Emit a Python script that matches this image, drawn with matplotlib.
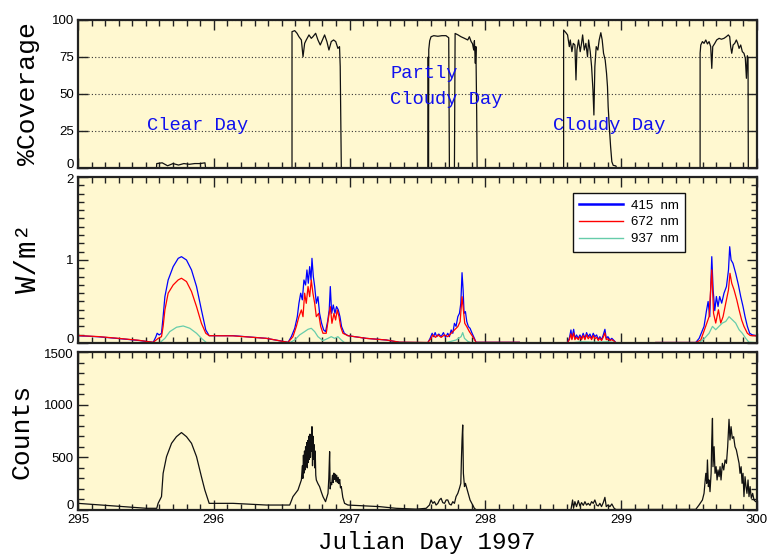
import numpy as np
import matplotlib
matplotlib.use("Agg")
import matplotlib.pyplot as plt
from matplotlib.ticker import MultipleLocator, FixedLocator, FuncFormatter
from matplotlib.font_manager import FontProperties
from matplotlib.lines import Line2D
from matplotlib.transforms import offset_copy

nan = np.nan

# ---------------- data (day, value) ----------------
cov_clear = [(295.578, 0), (295.58, 3), (295.62, 3.5), (295.66, 1.5), (295.70, 3), (295.74, 2),
             (295.78, 3), (295.82, 2.5), (295.86, 3), (295.90, 3), (295.935, 3.5), (295.94, 0)]
cov_day2 = [(296.576, 0), (296.576, 92.1), (296.596, 92.8), (296.613, 91), (296.627, 88.7),
            (296.645, 86.5), (296.657, 75.2), (296.669, 84.2), (296.681, 86.5), (296.701, 89.9),
            (296.718, 87.6), (296.73, 88.7), (296.75, 91), (296.767, 86.5), (296.784, 83.1),
            (296.80, 86.5), (296.816, 89.9), (296.833, 85.4), (296.848, 79.7), (296.865, 85.4),
            (296.882, 86.5), (296.898, 85.4), (296.914, 80.8), (296.926, 82), (296.931, 68.5),
            (296.939, 0)]
cov_partly = [(297.578, 0), (297.579, 75), (297.581, 0), (297.583, 80), (297.59, 86), (297.60, 88.7),
              (297.62, 89.4), (297.65, 89), (297.68, 89.4), (297.71, 89.4), (297.73, 88), (297.735, 0),
              (297.772, 0), (297.777, 90.9), (297.797, 90), (297.82, 88.7), (297.846, 87.6),
              (297.87, 86.5), (297.882, 88.7), (297.895, 85.4), (297.905, 84), (297.914, 79.7),
              (297.919, 86), (297.926, 70.7), (297.93, 82), (297.936, 36.9), (297.939, 0)]
cov_cloudy = [(298.576, 0), (298.576, 93.2), (298.593, 91.4), (298.605, 89.9), (298.618, 82),
              (298.625, 86.5), (298.637, 78.6), (298.647, 84.2), (298.659, 83.1), (298.667, 59.5),
              (298.674, 79.7), (298.686, 86.5), (298.698, 78.6), (298.708, 84.2), (298.716, 89.9),
              (298.728, 79.7), (298.74, 84.2), (298.752, 75.2), (298.76, 86.5), (298.772, 78.6),
              (298.782, 68.5), (298.792, 52.7), (298.799, 35.8), (298.806, 68.5), (298.816, 82),
              (298.828, 79.7), (298.838, 86.5), (298.85, 91.4), (298.86, 86.5), (298.87, 77.5),
              (298.882, 73), (298.892, 64), (298.899, 55), (298.904, 41.4), (298.914, 25.7),
              (298.922, 14.4), (298.931, 4.3), (298.941, 1.8), (298.961, 1.4), (298.966, 0)]
cov_day5 = [(299.581, 0), (299.581, 77.5), (299.586, 83.1), (299.598, 85.4), (299.61, 84.2),
            (299.623, 86.5), (299.635, 83.8), (299.647, 85.4), (299.659, 82), (299.667, 67.3),
            (299.674, 82), (299.689, 84.2), (299.703, 86.5), (299.721, 87.6), (299.738, 87),
            (299.757, 87.6), (299.774, 88.7), (299.789, 89.9), (299.799, 88.7), (299.806, 82),
            (299.814, 77.5), (299.824, 83.1), (299.836, 84.2), (299.848, 86.5), (299.858, 84.2),
            (299.868, 80.8), (299.88, 83.1), (299.892, 78.6), (299.904, 77.5), (299.914, 74.1),
            (299.922, 60.6), (299.929, 75.8), (299.934, 74), (299.936, 0)]

w415 = [(295.0, 0.088), (295.15, 0.075), (295.284, 0.056), (295.45, 0.03), (295.554, 0.008),
        (295.574, 0.076), (295.583, 0.117), (295.598, 0.097), (295.615, 0.117), (295.627, 0.317),
        (295.64, 0.558), (295.664, 0.759), (295.701, 0.92), (295.738, 1.02), (295.762, 1.04),
        (295.799, 1.0), (295.836, 0.88), (295.873, 0.68), (295.909, 0.398), (295.941, 0.157),
        (295.966, 0.088), (296.142, 0.088), (296.387, 0.056), (296.547, 0.008),
        (296.571, 0.076), (296.596, 0.177), (296.615, 0.317), (296.627, 0.478), (296.64, 0.6),
        (296.652, 0.52), (296.664, 0.759), (296.676, 0.699), (296.686, 0.88), (296.696, 0.72),
        (296.706, 0.92), (296.716, 0.759), (296.723, 1.02), (296.733, 0.8), (296.743, 0.68),
        (296.755, 0.478), (296.767, 0.558), (296.779, 0.357), (296.794, 0.237), (296.809, 0.157),
        (296.823, 0.137), (296.838, 0.257), (296.85, 0.398), (296.858, 0.68), (296.868, 0.357),
        (296.88, 0.458), (296.892, 0.357), (296.904, 0.438), (296.917, 0.398), (296.929, 0.317),
        (296.941, 0.197), (296.961, 0.117), (296.988, 0.088), (297.122, 0.056), (297.27, 0.036),
        (297.368, 0.008), (297.576, 0.004),
        (297.593, 0.056), (297.608, 0.117), (297.618, 0.076), (297.63, 0.125), (297.642, 0.076),
        (297.657, 0.108), (297.674, 0.076), (297.691, 0.125), (297.706, 0.068), (297.723, 0.117),
        (297.735, 0.076), (297.748, 0.157), (297.76, 0.117), (297.772, 0.237), (297.784, 0.2),
        (297.797, 0.317), (297.809, 0.357), (297.819, 0.478), (297.828, 0.847), (297.836, 0.639),
        (297.843, 0.357), (297.853, 0.378), (297.863, 0.257), (297.875, 0.197), (297.887, 0.177),
        (297.902, 0.117), (297.919, 0.056), (297.931, 0.008), (298.25, 0.008), (nan, nan),
        (298.605, 0.004), (298.618, 0.056), (298.63, 0.157), (298.637, 0.056), (298.65, 0.165),
        (298.659, 0.056), (298.671, 0.097), (298.684, 0.056), (298.696, 0.097), (298.708, 0.056),
        (298.72, 0.117), (298.733, 0.056), (298.745, 0.125), (298.757, 0.076), (298.77, 0.108),
        (298.782, 0.056), (298.794, 0.117), (298.806, 0.076), (298.819, 0.097), (298.831, 0.044),
        (298.843, 0.076), (298.855, 0.036), (298.868, 0.097), (298.88, 0.165), (298.89, 0.056),
        (298.902, 0.076), (298.917, 0.036), (298.931, 0.056), (298.948, 0.028), (298.961, 0.004),
        (nan, nan), (299.255, 0.006), (299.549, 0.006),
        (299.574, 0.056), (299.61, 0.2), (299.628, 0.39), (299.64, 0.5), (299.652, 0.317),
        (299.667, 1.04), (299.677, 0.64), (299.689, 0.39), (299.701, 0.56), (299.713, 0.44),
        (299.725, 0.56), (299.74, 0.48), (299.757, 0.6), (299.775, 0.68), (299.79, 0.88),
        (299.799, 1.16), (299.809, 1.0), (299.823, 0.96), (299.843, 0.84), (299.863, 0.7),
        (299.88, 0.56), (299.897, 0.44), (299.912, 0.317), (299.929, 0.2), (299.946, 0.117),
        (299.966, 0.097), (300.0, 0.085)]

w672 = [(295.0, 0.09), (295.15, 0.077), (295.284, 0.058), (295.45, 0.032), (295.554, 0.008),
        (295.591, 0.056), (295.615, 0.076), (295.627, 0.2), (295.64, 0.398), (295.664, 0.6),
        (295.701, 0.699), (295.738, 0.76), (295.762, 0.78), (295.799, 0.74), (295.836, 0.62),
        (295.873, 0.438), (295.909, 0.237), (295.941, 0.117), (295.966, 0.088), (296.142, 0.086),
        (296.387, 0.056), (296.547, 0.008),
        (296.583, 0.076), (296.608, 0.2), (296.627, 0.317), (296.645, 0.398), (296.657, 0.317),
        (296.669, 0.6), (296.681, 0.478), (296.694, 0.68), (296.706, 0.558), (296.718, 0.76),
        (296.73, 0.6), (296.743, 0.478), (296.755, 0.317), (296.772, 0.357), (296.787, 0.2),
        (296.804, 0.117), (296.828, 0.117), (296.846, 0.317), (296.858, 0.438), (296.87, 0.237),
        (296.885, 0.357), (296.897, 0.277), (296.909, 0.398), (296.922, 0.317), (296.934, 0.197),
        (296.951, 0.117), (296.988, 0.088), (297.122, 0.056), (297.27, 0.036), (297.368, 0.01),
        (297.576, 0.006),
        (297.60, 0.056), (297.613, 0.097), (297.632, 0.068), (297.65, 0.097), (297.674, 0.068),
        (297.699, 0.097), (297.723, 0.076), (297.748, 0.117), (297.772, 0.157), (297.797, 0.197),
        (297.814, 0.257), (297.828, 0.558), (297.838, 0.398), (297.848, 0.237), (297.863, 0.197),
        (297.882, 0.137), (297.907, 0.076), (297.931, 0.008), (298.25, 0.008), (nan, nan),
        (298.605, 0.004), (298.618, 0.04), (298.63, 0.11), (298.637, 0.04), (298.65, 0.12),
        (298.659, 0.04), (298.671, 0.07), (298.684, 0.04), (298.696, 0.08), (298.708, 0.04),
        (298.72, 0.09), (298.733, 0.04), (298.745, 0.1), (298.757, 0.05), (298.77, 0.08),
        (298.782, 0.04), (298.794, 0.09), (298.806, 0.05), (298.819, 0.07), (298.831, 0.03),
        (298.843, 0.06), (298.855, 0.03), (298.868, 0.07), (298.88, 0.12), (298.89, 0.04),
        (298.902, 0.05), (298.917, 0.03), (298.931, 0.04), (298.948, 0.02), (298.961, 0.004),
        (nan, nan), (299.255, 0.006), (299.549, 0.006),
        (299.586, 0.036), (299.622, 0.2), (299.647, 0.317), (299.667, 0.88), (299.68, 0.357),
        (299.696, 0.24), (299.716, 0.4), (299.733, 0.24), (299.75, 0.317), (299.77, 0.48),
        (299.79, 0.64), (299.801, 0.84), (299.814, 0.72), (299.831, 0.64), (299.851, 0.52),
        (299.868, 0.4), (299.887, 0.277), (299.904, 0.2), (299.929, 0.117), (299.95, 0.09),
        (300.0, 0.085)]

w937 = [(295.0, 0.004), (295.603, 0.004), (295.64, 0.056), (295.676, 0.137), (295.726, 0.19),
        (295.775, 0.205), (295.824, 0.177), (295.873, 0.117), (295.909, 0.056), (295.946, 0.004),
        (296.559, 0.004), (296.596, 0.036), (296.632, 0.097), (296.669, 0.137), (296.694, 0.165),
        (296.718, 0.177), (296.743, 0.137), (296.767, 0.076), (296.804, 0.028), (296.841, 0.056),
        (296.865, 0.076), (296.89, 0.056), (296.914, 0.076), (296.939, 0.036), (296.963, 0.004),
        (297.711, 0.004), (297.784, 0.036), (297.821, 0.076), (297.833, 0.125), (297.846, 0.056),
        (297.87, 0.02), (297.895, 0.004), (298.65, 0.004), (298.70, 0.015), (298.80, 0.01),
        (298.90, 0.015), (298.96, 0.004), (299.574, 0.004), (299.61, 0.05), (299.647, 0.117),
        (299.672, 0.2), (299.696, 0.16), (299.72, 0.2), (299.745, 0.24), (299.77, 0.26),
        (299.794, 0.317), (299.818, 0.28), (299.843, 0.24), (299.868, 0.16), (299.892, 0.117),
        (299.917, 0.056), (299.94, 0.01), (300.0, 0.004)]

counts = [(295.0, 63), (295.25, 40), (295.505, 16), (295.58, 16), (295.59, 63), (295.615, 127),
          (295.627, 348), (295.652, 506), (295.689, 633), (295.725, 696), (295.762, 735),
          (295.799, 696), (295.836, 633), (295.873, 506), (295.909, 316), (295.934, 190),
          (295.966, 63), (296.142, 63), (296.387, 47), (296.559, 47), (296.583, 127), (296.62, 190),
          (296.645, 285), (296.652, 420), (296.656, 300), (296.66, 520), (296.664, 350),
          (296.668, 560), (296.672, 380), (296.676, 600), (296.68, 420), (296.684, 640),
          (296.688, 400), (296.692, 660), (296.696, 450), (296.70, 700), (296.704, 480),
          (296.708, 720), (296.712, 500), (296.716, 680), (296.72, 560), (296.723, 791),
          (296.727, 420), (296.731, 700), (296.735, 480), (296.739, 620), (296.743, 400),
          (296.747, 560), (296.751, 330), (296.755, 285), (296.767, 250), (296.779, 222),
          (296.792, 170), (296.804, 127), (296.823, 79), (296.835, 130), (296.841, 158),
          (296.847, 300), (296.853, 554), (296.857, 200), (296.862, 260), (296.868, 240),
          (296.874, 330), (296.879, 260), (296.884, 350), (296.889, 290), (296.894, 340),
          (296.899, 270), (296.905, 330), (296.91, 260), (296.916, 310), (296.922, 250),
          (296.927, 290), (296.933, 210), (296.939, 222), (296.95, 120), (296.963, 63),
          (296.988, 47), (297.1, 40), (297.22, 32), (297.343, 16), (297.49, 8), (297.564, 16),
          (297.588, 47), (297.6, 95), (297.613, 63), (297.625, 79), (297.637, 47), (297.65, 63),
          (297.662, 95), (297.674, 111), (297.686, 70), (297.699, 63), (297.711, 95),
          (297.723, 95), (297.735, 57), (297.748, 47), (297.76, 79), (297.772, 63), (297.784, 127),
          (297.797, 158), (297.809, 206), (297.819, 253), (297.824, 506), (297.828, 665),
          (297.833, 807), (297.838, 348), (297.846, 222), (297.853, 253), (297.863, 206),
          (297.873, 158), (297.887, 95), (297.902, 57), (297.919, 16), (297.931, 3),
          (298.63, 3), (298.642, 95), (298.649, 16), (298.659, 79), (298.671, 32), (298.684, 89),
          (298.696, 38), (298.708, 70), (298.721, 44), (298.733, 79), (298.745, 47), (298.757, 63),
          (298.77, 44), (298.782, 79), (298.794, 63), (298.806, 95), (298.819, 47), (298.831, 38),
          (298.843, 63), (298.855, 32), (298.868, 70), (298.88, 120), (298.89, 32), (298.902, 47),
          (298.917, 32), (298.931, 57), (298.948, 16), (298.961, 5), (299.549, 6), (299.573, 47),
          (299.598, 95), (299.61, 158), (299.623, 348), (299.63, 253), (299.635, 475),
          (299.642, 222), (299.647, 285), (299.654, 174), (299.662, 348), (299.667, 665),
          (299.672, 870), (299.676, 411), (299.684, 601), (299.691, 348), (299.699, 411),
          (299.706, 285), (299.713, 380), (299.721, 316), (299.728, 411), (299.735, 285),
          (299.745, 443), (299.755, 380), (299.765, 475), (299.775, 443), (299.784, 601),
          (299.794, 861), (299.801, 665), (299.809, 791), (299.818, 680), (299.828, 696),
          (299.838, 601), (299.848, 570), (299.858, 506), (299.868, 443), (299.875, 348),
          (299.883, 411), (299.89, 253), (299.897, 348), (299.904, 127), (299.912, 316),
          (299.919, 222), (299.926, 158), (299.934, 285), (299.941, 127), (299.949, 222),
          (299.958, 111), (299.968, 158), (299.978, 95), (299.99, 79), (300.0, 79)]

annotations = [("Clear Day", 295.507, 28.4), ("Partly", 297.30, 64), ("Cloudy Day", 297.30, 46),
               ("Cloudy Day", 298.50, 28.4)]
legend_labels = ["415  nm", "672  nm", "937  nm"]
xticks = [295, 296, 297, 298, 299, 300]
cov_ticks = [0, 25, 50, 75, 100]
w_ticks = [0, 1, 2]
cnt_ticks = [0, 500, 1000, 1500]

# ---------------- style ----------------
BG = "#FFF8D0"
MONO = "Liberation Mono"
SANS = "Liberation Sans"
plt.rcParams["font.family"] = [SANS, "DejaVu Sans"]
TICK_FS = 9.5

fig = plt.figure(figsize=(7.69, 5.55), dpi=100)
ax1 = fig.add_axes([0.1014, 0.6973, 0.883, 0.2667])
ax2 = fig.add_axes([0.1014, 0.382, 0.883, 0.2991])
ax3 = fig.add_axes([0.1014, 0.0811, 0.883, 0.2847])


def xy(pairs):
    a = np.array(pairs, dtype=float)
    return a[:, 0], a[:, 1]


for seg in [cov_clear, cov_day2, cov_partly, cov_cloudy, cov_day5]:
    x, y = xy(seg)
    ax1.plot(x, y, color="#111111", lw=0.9)

x, y = xy(w415)
ax2.plot(x, y, color="#0000FF", lw=0.9)
x, y = xy(w672)
ax2.plot(x, y, color="#FF0000", lw=0.9)
x, y = xy(w937)
ax2.plot(x, y, color="#66CCAA", lw=0.9)

x, y = xy(counts)
ax3.plot(x, y, color="#111111", lw=0.9)

for ax, ylim in [(ax1, (0, 100)), (ax2, (0, 2)), (ax3, (0, 1500))]:
    ax.set_facecolor(BG)
    ax.set_xlim(295, 300)
    ax.set_ylim(*ylim)
    ax.xaxis.set_major_locator(FixedLocator(xticks))
    ax.xaxis.set_minor_locator(MultipleLocator(0.1))
    ax.tick_params(which="both", direction="in", top=True, right=True, width=1.0,
                   color="#222222", labelsize=TICK_FS, pad=3)
    ax.tick_params(which="major", length=7)
    ax.tick_params(which="minor", length=4)
    for s in ax.spines.values():
        s.set_linewidth(1.6)
        s.set_color("#222222")


def edge_formatter(skip):
    return FuncFormatter(lambda v, p: "" if v in skip else f"{v:g}")


def edge_label(ax, yval, dy):
    tr = offset_copy(ax.get_yaxis_transform(), fig=fig, x=-3, y=dy, units="points")
    ax.text(0, yval, f"{yval:g}", transform=tr, ha="right", va="center",
            fontsize=TICK_FS, family=SANS)


ax1.yaxis.set_major_locator(FixedLocator(cov_ticks))
ax1.yaxis.set_major_formatter(edge_formatter({0}))
ax1.yaxis.grid(True, linestyle=(0, (1, 2)), color="#333333", lw=0.8)
edge_label(ax1, 0, 2.5)

ax2.yaxis.set_major_locator(FixedLocator(w_ticks))
ax2.yaxis.set_minor_locator(MultipleLocator(0.1))
ax2.yaxis.set_major_formatter(edge_formatter({0, 2}))
edge_label(ax2, 2, -2.5)
edge_label(ax2, 0, 2.5)

ax3.yaxis.set_major_locator(FixedLocator(cnt_ticks))
ax3.yaxis.set_minor_locator(MultipleLocator(100))
ax3.yaxis.set_major_formatter(edge_formatter({0, 1500}))
edge_label(ax3, 1500, -2.5)
edge_label(ax3, 0, 3)

ax1.tick_params(axis="x", labelbottom=False)
ax2.tick_params(axis="x", labelbottom=False)
ax3.set_xticklabels([str(t) for t in xticks])

for txt, d, v in annotations:
    ax1.text(d, v, txt, color="#1010EE", fontsize=13.5, family=MONO, va="center", ha="left")

handles = [Line2D([], [], color="#0000FF", lw=1.8),
           Line2D([], [], color="#FF0000", lw=1.0),
           Line2D([], [], color="#66CCAA", lw=1.0)]
leg = ax2.legend(handles, legend_labels, loc="upper left", bbox_to_anchor=(0.7286, 0.905),
                 frameon=True, fancybox=False, framealpha=1, edgecolor="#111111",
                 prop=FontProperties(family=SANS, size=9.5), handlelength=3.3,
                 handletextpad=0.6, borderpad=0.5, labelspacing=0.35, borderaxespad=0)
leg.get_frame().set_linewidth(1.0)

fig.text(28 / 769, 1 - 94 / 555, "%Coverage", rotation=90, ha="center", va="center",
         family=MONO, fontsize=19)
fig.text(28 / 769, 1 - 258 / 555, "W/m²", rotation=90, ha="center", va="center",
         family=MONO, fontsize=21)
fig.text(22 / 769, 1 - 431 / 555, "Counts", rotation=90, ha="center", va="center",
         family=MONO, fontsize=19)
fig.text(427 / 769, 1 - 542 / 555, "Julian Day 1997", ha="center", va="center",
         family=MONO, fontsize=17.5)

fig.savefig("out.png", dpi=100, facecolor="white")
